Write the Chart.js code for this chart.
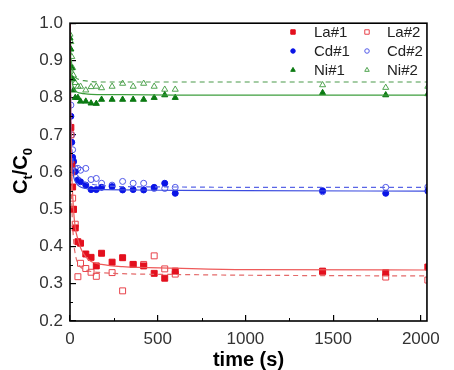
<!DOCTYPE html>
<html>
<head>
<meta charset="utf-8">
<script src="https://cdn.jsdelivr.net/npm/chart.js"></script>
<style>
  html, body { margin: 0; padding: 0; background: #fff; }
  #wrap { width: 454px; height: 370px; }
</style>
</head>
<body>
<div id="wrap"><canvas id="chart" width="454" height="370"></canvas></div>
<script>
// Sampling times (s) and measured Ct/C0 for each run
const sampleTimes = [0, 5, 10, 15, 20, 30, 45, 60, 90, 120, 150, 180, 240, 300, 360, 420, 480, 540, 600, 1440, 1800, 2040];
const la1 = [null, 0.72, 0.62, 0.56, 0.50, 0.45, 0.413, 0.409, 0.38, 0.371, 0.348, 0.382, 0.358, 0.37, 0.352, 0.348, 0.328, 0.315, 0.334, 0.334, 0.330, 0.345];
const la2 = [null, 0.70, 0.60, 0.53, 0.50, 0.46, 0.319, 0.355, 0.341, 0.331, 0.32, null, 0.33, 0.281, 0.352, 0.352, 0.375, 0.34, 0.326, 0.332, 0.318, 0.31];
const cd1 = [null, 0.75, 0.68, 0.64, 0.628, 0.601, 0.579, 0.574, 0.565, 0.553, 0.553, 0.559, 0.561, 0.552, 0.553, 0.552, 0.559, 0.570, 0.543, 0.55, 0.543, 0.549];
const cd2 = [null, 0.78, 0.70, 0.66, 0.63, 0.61, 0.61, 0.605, 0.61, 0.58, 0.583, 0.57, 0.565, 0.575, 0.570, 0.570, 0.556, 0.556, 0.559, 0.547, 0.559, 0.56];
const ni1 = [0.96, 0.93, 0.88, 0.85, 0.82, 0.80, 0.80, 0.79, 0.79, 0.785, 0.784, 0.795, 0.795, 0.795, 0.795, 0.795, 0.80, 0.807, 0.80, 0.813, 0.807, 0.81];
const ni2 = [0.97, 0.95, 0.91, 0.88, 0.86, 0.84, 0.83, 0.83, 0.82, 0.829, 0.83, 0.826, 0.83, 0.838, 0.83, 0.838, 0.83, 0.822, 0.822, 0.834, 0.827, 0.83];

// Fitted curves
const fitTimes = [0, 5, 10, 20, 30, 45, 60, 90, 120, 180, 300, 600, 1000, 2040];
const la1Fit = [1.0, 0.72, 0.6, 0.5, 0.45, 0.42, 0.397, 0.372, 0.36, 0.352, 0.346, 0.342, 0.338, 0.337];
const la2Fit = [1.0, 0.66, 0.52, 0.42, 0.38, 0.355, 0.345, 0.337, 0.333, 0.33, 0.327, 0.325, 0.323, 0.321];
const cd1Fit = [1.0, 0.70, 0.63, 0.59, 0.575, 0.565, 0.56, 0.556, 0.554, 0.553, 0.552, 0.551, 0.55, 0.549];
const cd2Fit = [1.0, 0.74, 0.67, 0.62, 0.60, 0.59, 0.58, 0.572, 0.568, 0.564, 0.561, 0.56, 0.559, 0.559];
const ni1Fit = [1.0, 0.88, 0.85, 0.825, 0.818, 0.814, 0.812, 0.81, 0.809, 0.808, 0.808, 0.807, 0.807, 0.807];
const ni2Fit = [1.0, 0.92, 0.89, 0.865, 0.855, 0.85, 0.847, 0.845, 0.843, 0.842, 0.842, 0.842, 0.842, 0.842];

// Axis ticks
const xTickValues = [0, 500, 1000, 1500, 2000];
const xMinorTicks = [250, 750, 1250, 1750];
const yTickValues = [0.2, 0.3, 0.4, 0.5, 0.6, 0.7, 0.8, 0.9, 1.0];
const yMinorTicks = [0.25, 0.35, 0.45, 0.55, 0.65, 0.75, 0.85, 0.95];
const legendNames = ['La#1', 'La#2', 'Cd#1', 'Cd#2', 'Ni#1', 'Ni#2'];

const FONT = "'Liberation Sans', Arial, sans-serif";

function toPoints(xs, ys) {
  return xs.map((x, i) => ({ x: x, y: ys[i] })).filter(p => p.y !== null);
}

function scatterSet(label, ys, style, color, filled, radius) {
  return {
    type: 'line',
    label: label,
    data: toPoints(sampleTimes, ys),
    showLine: false,
    pointStyle: style,
    pointRadius: radius,
    pointBorderWidth: 1,
    pointBorderColor: color,
    pointBackgroundColor: filled ? color : 'rgba(255,255,255,0)',
    borderColor: color,
    backgroundColor: filled ? color : 'rgba(255,255,255,0)'
  };
}

function fitSet(ys, color, dashed) {
  return {
    type: 'line',
    label: '',
    data: toPoints(fitTimes, ys),
    borderColor: color,
    borderWidth: 1.2,
    borderDash: dashed ? [5, 4] : [],
    pointRadius: 0,
    cubicInterpolationMode: 'monotone',
    fill: false
  };
}

const pointSets = [
  scatterSet('La#1', la1, 'rect', '#e3101e', true, 4.2),
  scatterSet('La#2', la2, 'rect', '#e8434b', false, 4.2),
  scatterSet('Cd#1', cd1, 'circle', '#0a14e6', true, 3),
  scatterSet('Cd#2', cd2, 'circle', '#5058e8', false, 3),
  scatterSet('Ni#1', ni1, 'triangle', '#0b7a12', true, 3.5),
  scatterSet('Ni#2', ni2, 'triangle', '#4ea34e', false, 3.5)
];

const fitSets = [
  fitSet(la1Fit, '#ee5a5a', false),
  fitSet(la2Fit, '#e46a6a', true),
  fitSet(cd1Fit, '#3c4ce0', false),
  fitSet(cd2Fit, '#5a66e6', true),
  fitSet(ni1Fit, '#3e9e3e', false),
  fitSet(ni2Fit, '#4a9a4a', true)
];

// frame, minor ticks, y title and legend
const decorations = {
  id: 'decorations',
  afterDraw(chart) {
    const ctx = chart.ctx;
    const area = chart.chartArea;
    const xs = chart.scales.x, ys = chart.scales.y;
    ctx.save();

    // minor ticks, pointing inward
    ctx.strokeStyle = '#000';
    ctx.lineWidth = 1;
    ctx.beginPath();
    xMinorTicks.forEach(v => {
      const px = Math.round(xs.getPixelForValue(v)) + 0.5;
      ctx.moveTo(px, area.bottom);
      ctx.lineTo(px, area.bottom - 3);
    });
    yMinorTicks.forEach(v => {
      const py = Math.round(ys.getPixelForValue(v)) + 0.5;
      ctx.moveTo(area.left, py);
      ctx.lineTo(area.left + 3, py);
    });
    ctx.stroke();

    // box frame
    ctx.lineWidth = 1.6;
    ctx.strokeRect(area.left, area.top, area.right - area.left, area.bottom - area.top);

    // y title: Ct/C0 with subscripts
    ctx.translate(20, 171);
    ctx.rotate(-Math.PI / 2);
    ctx.fillStyle = '#000';
    ctx.textBaseline = 'alphabetic';
    const big = 'bold 20px ' + FONT, small = 'bold 13px ' + FONT;
    const parts = [['C', big, 0], ['t', small, 5], ['/C', big, 0], ['0', small, 5]];
    let total = 0;
    parts.forEach(p => { ctx.font = p[1]; total += ctx.measureText(p[0]).width; });
    let cx = -total / 2;
    parts.forEach(p => {
      ctx.font = p[1];
      ctx.fillText(p[0], cx, 7 + p[2]);
      cx += ctx.measureText(p[0]).width;
    });
    ctx.restore();

    // legend, two columns
    ctx.save();
    ctx.font = '15px ' + FONT;
    ctx.fillStyle = '#222';
    ctx.textBaseline = 'middle';
    const markX = [293, 367], textX = [314, 387];
    legendNames.forEach((name, i) => {
      const ds = pointSets[i];
      const col = i % 2, row = Math.floor(i / 2);
      const y = 32 + row * 19;
      ctx.strokeStyle = ds.pointBorderColor;
      ctx.fillStyle = ds.pointBackgroundColor;
      ctx.lineWidth = 1;
      Chart.helpers.drawPoint(ctx, { pointStyle: ds.pointStyle, radius: ds.pointRadius * 0.75, rotation: 0, borderWidth: 1 }, markX[col], y);
      ctx.fillStyle = '#222';
      ctx.fillText(name, textX[col], y + 1);
    });
    ctx.restore();
  }
};

new Chart(document.getElementById('chart'), {
  type: 'line',
  data: { datasets: fitSets.concat(pointSets) },
  options: {
    responsive: false,
    animation: false,
    layout: { padding: { top: 23, right: 16, left: 0, bottom: 0 } },
    plugins: { legend: { display: false }, tooltip: { enabled: false } },
    scales: {
      x: {
        type: 'linear',
        min: 0,
        max: 2035,
        afterBuildTicks: s => { s.ticks = xTickValues.map(v => ({ value: v })); },
        afterFit: s => { s.height = 49; },
        grid: { drawOnChartArea: false, color: '#000', tickLength: -6, lineWidth: 1.2 },
        border: { display: false },
        ticks: { color: '#333', font: { family: FONT, size: 17 }, padding: 14, maxRotation: 0, callback: v => String(v) },
        title: { display: true, text: 'time (s)', color: '#000', font: { family: FONT, size: 20, weight: 'bold', lineHeight: 1 }, padding: 0 }
      },
      y: {
        type: 'linear',
        min: 0.2,
        max: 1.0,
        afterBuildTicks: s => { s.ticks = yTickValues.map(v => ({ value: v })); },
        afterFit: s => { s.width = 70; },
        grid: { drawOnChartArea: false, color: '#000', tickLength: -6, lineWidth: 1.2 },
        border: { display: false },
        ticks: { color: '#333', font: { family: FONT, size: 17 }, padding: 13, callback: v => v.toFixed(1) }
      }
    }
  },
  plugins: [decorations]
});
</script>
</body>
</html>
